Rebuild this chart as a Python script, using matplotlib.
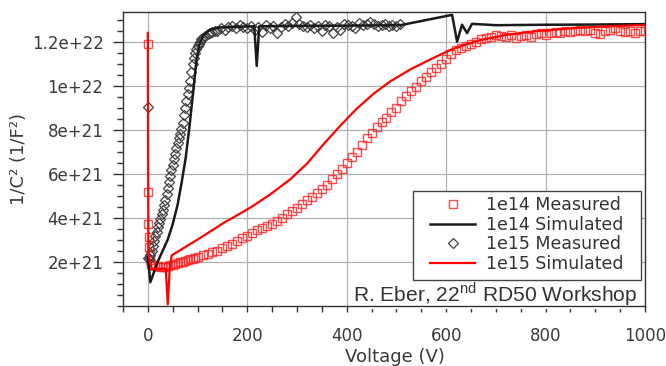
import matplotlib
matplotlib.use("Agg")
import matplotlib.pyplot as plt
from matplotlib.patches import Rectangle
from matplotlib.ticker import MultipleLocator, FuncFormatter

# ---------------- data ----------------
# 1e14 Measured (red squares)
m14_v = [0, 0, 0, 2, 3, 4, 5, 7, 10, 15, 20, 25, 30, 35, 40, 45, 50, 55, 60, 65,
         70, 75, 80, 85, 90, 95, 100, 110, 120, 130, 140, 150, 160, 170, 180, 190,
         200, 210, 220, 230, 240, 250, 260, 270, 280, 290, 300, 310, 320, 330, 340,
         350, 360, 370, 380, 390, 400, 410, 420, 430, 440, 450, 460, 470, 480, 490,
         500, 510, 520, 530, 540, 550, 560, 570, 580, 590, 600, 610, 620, 630, 640,
         650, 660, 670, 680, 690, 700, 710, 720, 730, 740, 750, 760, 770, 780, 790,
         800, 810, 820, 830, 840, 850, 860, 870, 880, 890, 900, 910, 920, 930, 940,
         950, 960, 970, 980, 990, 1000]
m14_c = [1.19e22, 5.17e21, 3.69e21, 3.1e21, 2.66e21, 2.3e21, 2.05e21, 1.9e21, 1.82e21,
         1.8e21, 1.78e21, 1.75e21, 1.76e21, 1.75e21, 1.78e21, 1.82e21, 1.86e21, 1.9e21,
         1.93e21, 1.96e21, 2.0e21, 2.03e21, 2.06e21, 2.1e21, 2.13e21, 2.17e21, 2.2e21,
         2.28e21, 2.35e21, 2.43e21, 2.5e21, 2.6e21, 2.7e21, 2.8e21, 2.92e21, 3.05e21,
         3.18e21, 3.3e21, 3.42e21, 3.53e21, 3.62e21, 3.72e21, 3.85e21, 4.0e21, 4.15e21,
         4.3e21, 4.45e21, 4.6e21, 4.78e21, 4.95e21, 5.12e21, 5.3e21, 5.5e21, 5.75e21,
         6.0e21, 6.2e21, 6.5e21, 6.75e21, 7.0e21, 7.3e21, 7.6e21, 7.85e21, 8.1e21,
         8.35e21, 8.55e21, 8.8e21, 9.0e21, 9.3e21, 9.55e21, 9.75e21, 9.95e21, 1.02e22,
         1.04e22, 1.06e22, 1.08e22, 1.1e22, 1.12e22, 1.145e22, 1.16e22, 1.17e22, 1.18e22,
         1.19e22, 1.2e22, 1.21e22, 1.215e22, 1.22e22, 1.23e22, 1.225e22, 1.22e22, 1.23e22,
         1.215e22, 1.225e22, 1.23e22, 1.22e22, 1.235e22, 1.24e22, 1.23e22, 1.24e22,
         1.245e22, 1.24e22, 1.25e22, 1.245e22, 1.25e22, 1.255e22, 1.25e22, 1.255e22,
         1.24e22, 1.235e22, 1.25e22, 1.255e22, 1.26e22, 1.25e22, 1.245e22, 1.25e22,
         1.24e22, 1.25e22, 1.25e22]

# 1e14 Simulated (black line)
s14_v = [0, 5, 12, 20, 30, 40, 50, 60, 68, 76, 84, 92, 98, 104, 112, 125, 145, 180,
         214, 219, 224, 300, 400, 508, 612, 622, 632, 642, 652, 700, 800, 900, 1000]
s14_c = [2.2e21, 1.06e21, 1.5e21, 2.0e21, 2.5e21, 3.0e21, 3.7e21, 4.6e21, 5.6e21,
         6.7e21, 8.2e21, 9.9e21, 1.12e22, 1.19e22, 1.23e22, 1.255e22, 1.265e22,
         1.268e22, 1.27e22, 1.09e22, 1.27e22, 1.272e22, 1.273e22, 1.275e22, 1.322e22,
         1.2e22, 1.277e22, 1.239e22, 1.281e22, 1.275e22, 1.277e22, 1.278e22, 1.28e22]

# 1e15 Measured (diamonds)
m15_v = [0, 0, 2.5, 5, 7.5, 10, 12.5, 15, 17.5, 20, 22.5, 25, 27.5, 30, 32.5, 35, 37.5,
         40, 42.5, 45, 47.5, 50, 52.5, 55, 57.5, 60, 62.5, 65, 67.5, 70, 72.5, 75, 77.5,
         80, 82.5, 85, 87.5, 90, 92.5, 95, 97.5, 100, 102.5, 105, 107.5, 110, 115, 120,
         125, 130, 135, 140, 147, 155, 162, 170, 177, 185, 192, 200, 207, 215, 222, 230,
         237, 245, 252, 260, 267, 275, 282, 290, 297, 305, 312, 320, 327, 335, 342, 350,
         357, 365, 372, 380, 387, 395, 402, 410, 417, 425, 432, 440, 447, 455, 462, 470,
         477, 485, 492, 500, 507]
m15_c = [9.03e21, 2.17e21, 2.1e21, 2.3e21, 2.5e21, 2.7e21, 2.95e21, 3.15e21, 3.35e21,
         3.55e21, 3.75e21, 3.95e21, 4.15e21, 4.35e21, 4.55e21, 4.8e21, 5.05e21, 5.35e21,
         5.6e21, 5.9e21, 6.15e21, 6.4e21, 6.65e21, 6.9e21, 7.15e21, 7.4e21, 7.6e21,
         7.8e21, 8.05e21, 8.3e21, 8.65e21, 9.0e21, 9.3e21, 9.6e21, 9.9e21, 1.02e22,
         1.06e22, 1.1e22, 1.125e22, 1.15e22, 1.165e22, 1.18e22, 1.19e22, 1.2e22,
         1.21e22, 1.215e22, 1.225e22, 1.235e22, 1.24e22, 1.245e22, 1.25e22,
         1.25e22, 1.26e22, 1.255e22, 1.265e22, 1.27e22,
         1.26e22, 1.275e22, 1.265e22, 1.26e22, 1.27e22, 1.255e22, 1.265e22, 1.245e22,
         1.275e22, 1.26e22, 1.27e22, 1.24e22, 1.265e22, 1.28e22, 1.27e22, 1.285e22,
         1.31e22, 1.28e22, 1.27e22, 1.265e22, 1.275e22, 1.26e22, 1.27e22, 1.25e22,
         1.275e22, 1.27e22, 1.24e22, 1.265e22, 1.255e22, 1.28e22, 1.275e22, 1.27e22,
         1.26e22, 1.285e22, 1.275e22, 1.28e22, 1.29e22, 1.28e22, 1.27e22, 1.275e22,
         1.28e22, 1.27e22, 1.275e22, 1.27e22, 1.28e22]

# 1e15 Simulated (red line)
s15_v = [0, 1, 4, 8, 36, 40, 44, 48, 100, 150, 206, 246, 287, 320, 354, 388, 405, 421,
         455, 488, 529, 569, 606, 630, 670, 724, 791, 858, 926, 1000]
s15_c = [1.24e22, 2.5e21, 2.0e21, 1.67e21, 1.67e21, 0.05e21, 1.67e21, 2.28e21, 3.0e21,
         3.72e21, 4.45e21, 5.05e21, 5.75e21, 6.45e21, 7.35e21, 8.2e21, 8.6e21, 8.97e21,
         9.65e21, 1.02e22, 1.075e22, 1.12e22, 1.16e22, 1.18e22, 1.208e22, 1.232e22,
         1.25e22, 1.262e22, 1.27e22, 1.276e22]

labels = ["1e14 Measured", "1e14 Simulated", "1e15 Measured", "1e15 Simulated"]
x_ticks = [0, 200, 400, 600, 800, 1000]
y_ticks = [2e21, 4e21, 6e21, 8e21, 1e22, 1.2e22]

# ---------------- figure ----------------
plt.rcParams['font.family'] = ['DejaVu Sans']
plt.rcParams['mathtext.fontset'] = 'custom'
plt.rcParams['mathtext.rm'] = 'Liberation Sans'

fig = plt.figure(figsize=(6.66, 3.66), dpi=100)
ax = fig.add_axes([123/666, 1-305.5/366, 522/666, 293.5/366])

tick_col = '#3a3a3a'
ax.plot(m14_v, m14_c, linestyle='none', marker='s', markersize=6.2,
        markerfacecolor='none', markeredgecolor='#ff2020', markeredgewidth=1.0,
        alpha=0.8, label=labels[0], zorder=3)
ax.plot(s14_v, s14_c, color='#1a1a1a', lw=1.8, label=labels[1], zorder=4)
ax.plot(m15_v, m15_c, linestyle='none', marker='D', markersize=5.5,
        markerfacecolor='none', markeredgecolor='#404040', markeredgewidth=0.9,
        label=labels[2], zorder=3)
ax.plot(s15_v, s15_c, color='#ff0000', lw=1.6, label=labels[3], zorder=5)

ax.set_xlim(-50, 1000)
ax.set_ylim(0, 1.335e22)
ax.set_xticks(x_ticks)
ax.set_yticks(y_ticks)
ax.xaxis.set_minor_locator(MultipleLocator(50))
ax.yaxis.set_minor_locator(MultipleLocator(5e20))

def yfmt(v, pos):
    m, e = f"{v:.1e}".split("e")
    m = m.rstrip('0').rstrip('.')
    return f"{m}e+{int(e)}"
ax.yaxis.set_major_formatter(FuncFormatter(yfmt))

ax.grid(True, which='major', color='#b0b0b0', lw=0.9)
ax.set_axisbelow(True)
for s in ax.spines.values():
    s.set_color('#333333')
    s.set_linewidth(1.0)

ax.tick_params(axis='both', which='both', direction='out', colors='#333333',
               labelcolor=tick_col, labelsize=12)
ax.tick_params(axis='y', which='major', length=7, width=1, pad=7)
ax.tick_params(axis='y', which='minor', length=4, width=1)
ax.tick_params(axis='x', which='major', length=4.5, width=1, pad=11)
ax.tick_params(axis='x', which='minor', length=4.5, width=1)

ax.set_xlabel("Voltage (V)", fontsize=13, color=tick_col)
ax.xaxis.set_label_coords(0.521, -0.146)
ax.set_ylabel("1/C² (1/F²)", fontsize=13, color=tick_col)
ax.yaxis.set_label_coords(-0.182, 0.5)

# legend frame drawn as its own patch (wider side padding as in the reference)
frame = Rectangle((0.5556, 0.0869), 0.4368, 0.3032, transform=ax.transAxes,
                  facecolor='white', edgecolor='#444444', lw=1.0, zorder=6)
ax.add_patch(frame)
leg = ax.legend(loc='upper left', bbox_to_anchor=(0.588, 0.373), borderaxespad=0,
                fontsize=12.5, labelspacing=0.1, handlelength=2.6, handletextpad=0.63,
                borderpad=0.0, frameon=False, numpoints=1)
leg.set_zorder(7)
for t in leg.get_texts():
    t.set_color('#333333')

ax.text(0.985, 0.0143, r"R. Eber, 22$^{\rm nd}$ RD50 Workshop", transform=ax.transAxes,
        ha='right', va='baseline', fontsize=15.1, family='Liberation Sans',
        color='#333333', zorder=2.45,
        bbox=dict(facecolor='white', edgecolor='none', pad=1.0))

fig.savefig("out.png", dpi=100)
